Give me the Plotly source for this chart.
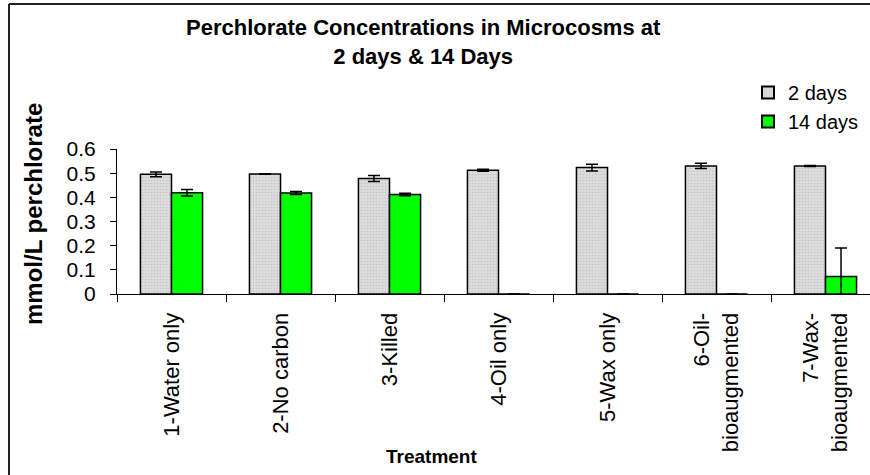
import plotly.graph_objects as go

# Treatments and perchlorate concentrations (mmol/L)
treatments = [
    "1-Water only",
    "2-No carbon",
    "3-Killed",
    "4-Oil only",
    "5-Wax only",
    "6-Oil-<br>bioaugmented",
    "7-Wax-<br>bioaugmented",
]
day2_values = [0.495, 0.497, 0.478, 0.512, 0.523, 0.530, 0.530]
day2_errors = [0.010, 0.001, 0.012, 0.004, 0.014, 0.011, 0.002]
day14_values = [0.419, 0.418, 0.412, 0.0, 0.0, 0.0, 0.072]
day14_errors = [0.013, 0.006, 0.005, 0.0, 0.0, 0.0, 0.118]
y_ticks = [0, 0.1, 0.2, 0.3, 0.4, 0.5, 0.6]
y_tick_text = ["0", "0.1", "0.2", "0.3", "0.4", "0.5", "0.6"]

FONT = "Arial, Liberation Sans, sans-serif"
W, H = 870, 475
M_L, M_R, M_T, M_B = 117, 0, 149, 181
plot_w = W - M_L - M_R
plot_h = H - M_T - M_B
CAT_PX = 109  # width of one treatment slot


def px_x(p):
    return (p - M_L) / plot_w


def px_y(p):
    return (H - M_B - p) / plot_h


err_style = dict(type="data", visible=True, color="black", thickness=1.5, width=6)

fig = go.Figure()
fig.add_trace(go.Bar(
    name="2 days",
    x=treatments,
    y=day2_values,
    error_y=dict(array=day2_errors, **err_style),
    marker=dict(
        color="#d6d6d6",
        line=dict(color="black", width=1.5),
        pattern=dict(shape=".", fgcolor="#b0b0b0", bgcolor="#dcdcdc", size=3, solidity=0.25),
    ),
))
fig.add_trace(go.Bar(
    name="14 days",
    x=treatments,
    y=day14_values,
    error_y=dict(array=day14_errors, **err_style),
    marker=dict(color="#00ff00", line=dict(color="black", width=1.5)),
))

# Outer chart frame (left and top edges)
frame = dict(color="#222222", width=2)
fig.add_shape(type="line", xref="paper", yref="paper",
              x0=px_x(9), x1=px_x(9), y0=px_y(4), y1=px_y(H + 5), line=frame)
fig.add_shape(type="line", xref="paper", yref="paper",
              x0=px_x(9), x1=px_x(W + 5), y0=px_y(4), y1=px_y(4), line=frame)

# Chart title
fig.add_annotation(
    text="<b>Perchlorate Concentrations in Microcosms at<br>2 days &amp; 14 Days</b>",
    xref="paper", yref="paper", x=px_x(423), y=px_y(13),
    xanchor="center", yanchor="top", showarrow=False,
    font=dict(family=FONT, size=22, color="black"),
)
# Y-axis title
fig.add_annotation(
    text="<b>mmol/L perchlorate</b>", textangle=-90,
    xref="paper", yref="paper", x=px_x(33), y=px_y(214),
    xanchor="center", yanchor="middle", showarrow=False,
    font=dict(family=FONT, size=24, color="black"),
)
# X-axis title
fig.add_annotation(
    text="<b>Treatment</b>",
    xref="paper", yref="paper", x=px_x(431), y=px_y(456),
    xanchor="center", yanchor="middle", showarrow=False,
    font=dict(family=FONT, size=19, color="black"),
)

fig.update_layout(
    width=W, height=H,
    margin=dict(l=M_L, r=M_R, t=M_T, b=M_B),
    paper_bgcolor="white", plot_bgcolor="white",
    barmode="group", bargap=0.43, bargroupgap=0,
    font=dict(family=FONT, size=20, color="black"),
    legend=dict(
        x=px_x(748), y=px_y(73), xref="paper", yref="paper",
        xanchor="left", yanchor="top",
        font=dict(family=FONT, size=20, color="black"),
        bgcolor="rgba(0,0,0,0)", itemsizing="constant", tracegroupgap=8,
    ),
    showlegend=True,
)
fig.update_xaxes(
    type="category", range=[-0.5, -0.5 + plot_w / CAT_PX],
    showline=True, linecolor="black", linewidth=1,
    ticks="outside", tickson="boundaries", ticklen=7, tickcolor="black",
    tickangle=-90, ticklabelstandoff=9,
    tickfont=dict(family=FONT, size=22, color="black"),
    showgrid=False, zeroline=False,
)
fig.update_yaxes(
    range=[0, 0.6], tickvals=y_ticks, ticktext=y_tick_text,
    showline=True, linecolor="black", linewidth=1,
    ticks="outside", ticklen=6, tickcolor="black",
    ticklabelstandoff=10,
    tickfont=dict(family=FONT, size=21, color="black"),
    showgrid=False, zeroline=False,
)

fig.write_html("out.html")
